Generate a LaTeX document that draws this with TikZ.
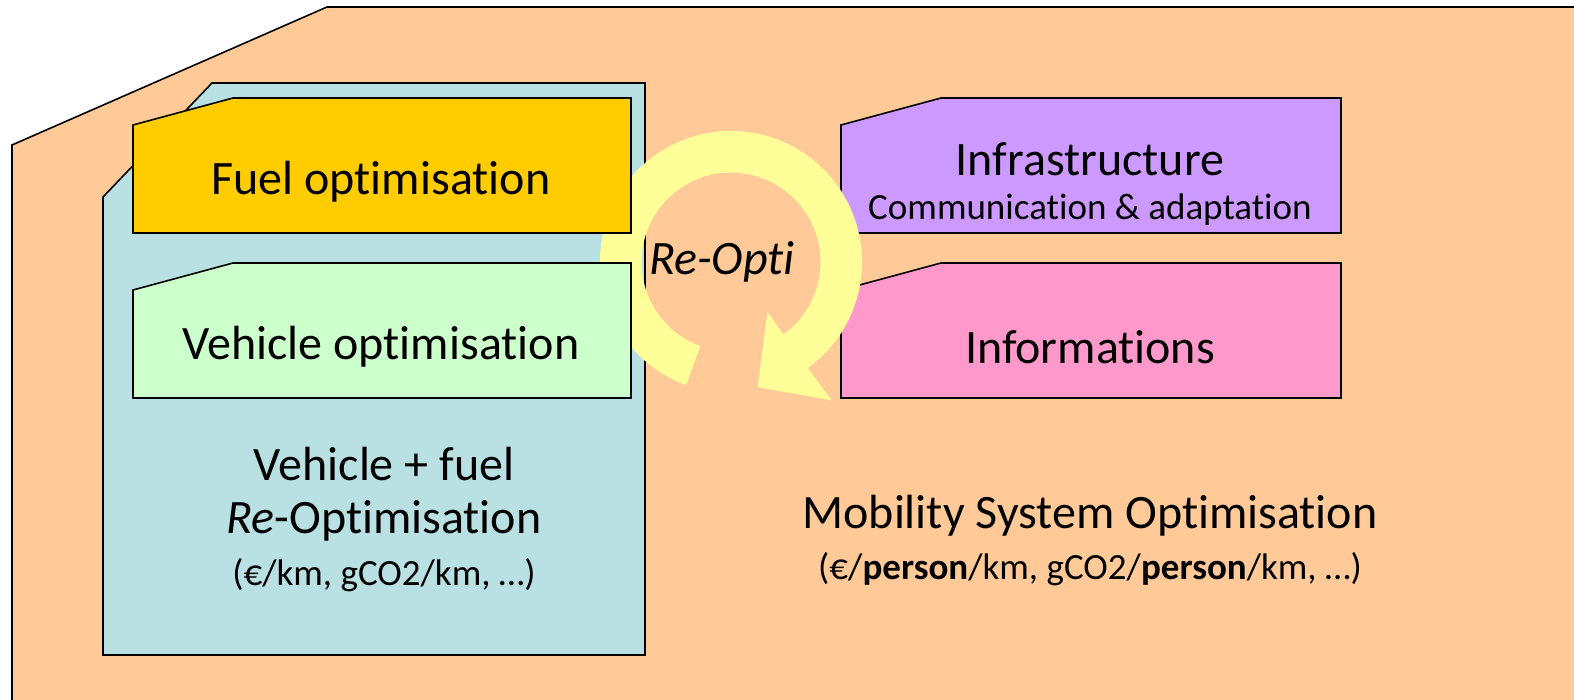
\documentclass[tikz,border=0pt]{standalone}
\usepackage{fontspec}
\setmainfont{Carlito}[Ligatures=NoCommon]
\usetikzlibrary{calc}
\definecolor{peach}{HTML}{FFCA98}
\definecolor{bluebox}{HTML}{B9E0E3}
\definecolor{fuelc}{HTML}{FFCC00}
\definecolor{vehc}{HTML}{CCFFCC}
\definecolor{infrac}{HTML}{CC99FF}
\definecolor{infoc}{HTML}{FF99CC}
\definecolor{arrowc}{HTML}{FFFF99}
\begin{document}
\begin{tikzpicture}[x=1pt,y=1pt,
  box/.style={draw=black, line width=1.6pt, line join=miter},
  big/.style={inner sep=0pt, font=\fontsize{48}{57}\selectfont},
  small/.style={inner sep=0pt, font=\fontsize{37}{44}\selectfont}]
\useasboundingbox (0,0) rectangle (1574,-700);
\begin{scope}
  \clip (0,0) rectangle (1574,-700);
  \fill[peach] (12,-710) -- (12,-145) -- (327,-7) -- (1590,-7) -- (1590,-710) -- cycle;
  \draw[box] (12,-710) -- (12,-145) -- (327,-7) -- (1590,-7);
\end{scope}
% vehicle + fuel container
\draw[box, fill=bluebox] (103,-197) -- (212,-83) -- (645,-83) -- (645,-655) -- (103,-655) -- cycle;
% right boxes
\draw[box, fill=infrac] (841,-125) -- (941,-98) -- (1341,-98) -- (1341,-233) -- (841,-233) -- cycle;
\draw[box, fill=infoc] (841,-290) -- (941,-263) -- (1341,-263) -- (1341,-398) -- (841,-398) -- cycle;
% circular arrow
\coordinate (C) at (731,-262);
\fill[arrowc] ($(C)+(250:131)$) arc[start angle=250, end angle=-54, radius=131]
  -- ($(C)+(-54:171)$) -- ($(C)+(-78:128)$) -- ($(C)+(-54:62)$) -- ($(C)+(-54:89.5)$)
  arc[start angle=-54, end angle=250, radius=89.5] -- cycle;
% left boxes
\draw[box, fill=fuelc] (133,-125) -- (233,-98) -- (631,-98) -- (631,-233) -- (133,-233) -- cycle;
\draw[box, fill=vehc] (133,-290) -- (233,-263) -- (631,-263) -- (631,-398) -- (133,-398) -- cycle;
% texts
\node[big] (fuel) at (381,-182) {Fuel optimisation};
\node[big] (veh) at (381,-347) {Vehicle optimisation};
\node[big] (vf1) at (384,-464) {Vehicle + fuel};
\node[big] (vf2) at (384,-521) {\textit{Re}-Optimisation};
\node[small] (vf3) at (384,-575) {(€/km, gCO2/km, …)};
\node[big] (infra) at (1090,-159) {Infrastructure};
\node[small] (comm) at (1090,-210) {Communication \& adaptation};
\node[big] (info) at (1090,-347) {Informations};
\node[big] (reopti) at (722,-262) {\textit{Re-Opti}};
\node[big] (mob) at (1090,-516) {Mobility System Optimisation};
\node[small] (mob2) at (1090,-569) {(€/\textbf{person}/km, gCO2/\textbf{person}/km, …)};
\end{tikzpicture}
\end{document}
